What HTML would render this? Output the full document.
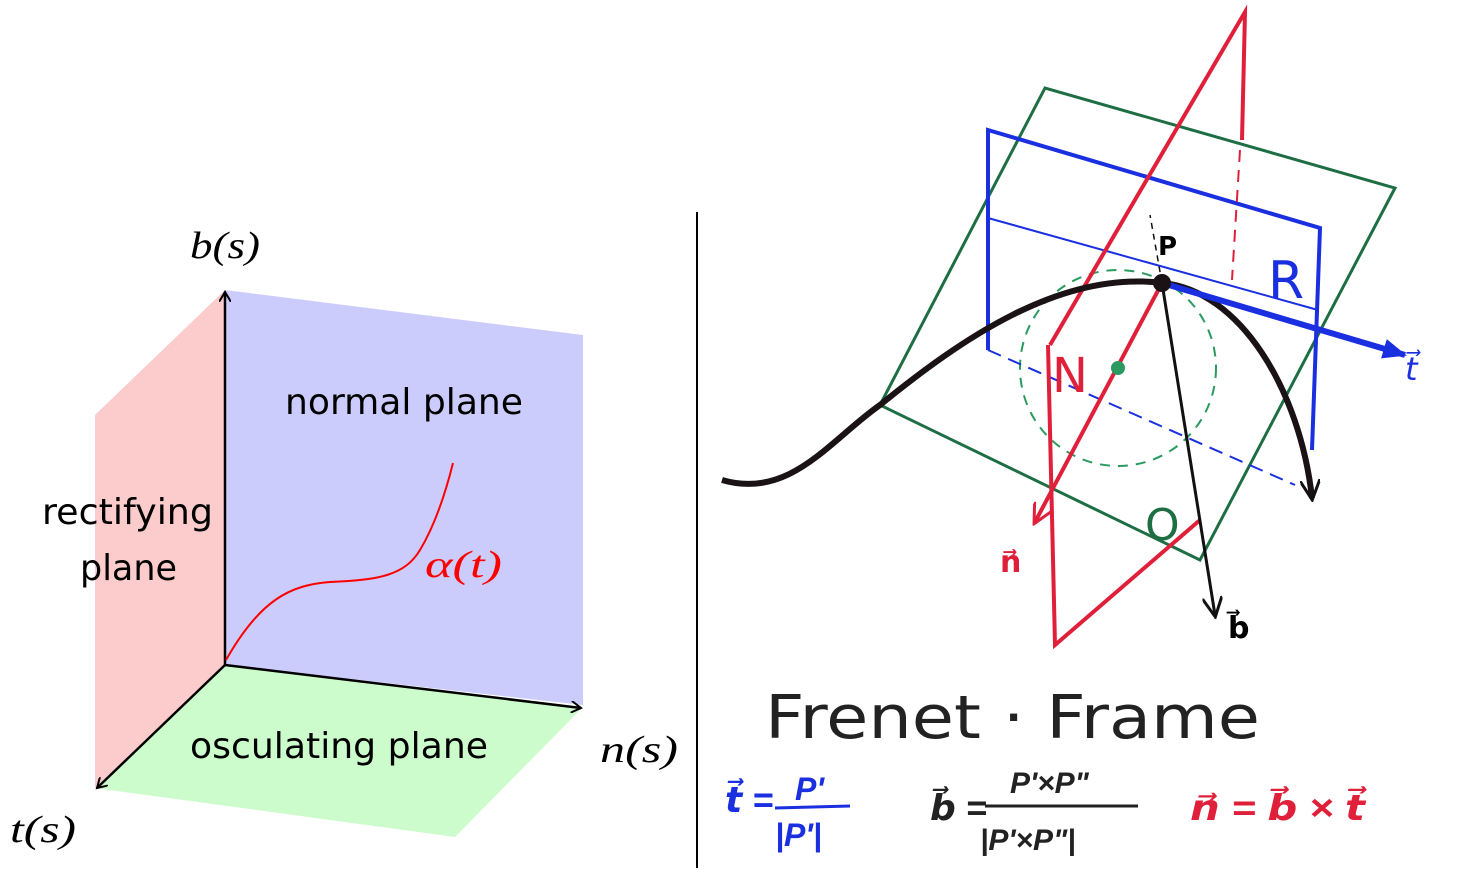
<!DOCTYPE html>
<html><head><meta charset="utf-8"><style>
html,body{margin:0;padding:0;background:#fff;width:1466px;height:889px;overflow:hidden}
svg{display:block}
.sans{font-family:"DejaVu Sans","Liberation Sans",sans-serif}
.serif{font-family:"Liberation Serif",serif;font-style:italic}
</style></head><body>
<svg width="1466" height="889" viewBox="0 0 1466 889">
<defs>
<marker id="ah" markerWidth="12" markerHeight="12" refX="10" refY="6" orient="auto" markerUnits="userSpaceOnUse"><path d="M0,0 L10,6 L0,12" fill="none" stroke="#000" stroke-width="2"/></marker>
<marker id="ahb" markerWidth="26" markerHeight="20" refX="22" refY="10" orient="auto" markerUnits="userSpaceOnUse"><path d="M0,0 L24,10 L0,20 Z" fill="#1a2fe0"/></marker>
<marker id="ahk" markerWidth="22" markerHeight="20" refX="18" refY="10" orient="auto" markerUnits="userSpaceOnUse"><path d="M0,0 L20,10 L0,20" fill="none" stroke="#111" stroke-width="3"/></marker>
<marker id="ahr" markerWidth="22" markerHeight="20" refX="18" refY="10" orient="auto" markerUnits="userSpaceOnUse"><path d="M0,0 L20,10 L0,20" fill="none" stroke="#e0203a" stroke-width="3"/></marker>
</defs>
<g>
<polygon points="95,415 225,290 225,665 95,788" fill="#fccbcb"/>
<polygon points="225,290 583,335 583,705 225,665" fill="#ccccfc"/>
<polygon points="225,665 583,707 455,837 95,788" fill="#ccfccc"/>
<line x1="225" y1="665" x2="225" y2="292" stroke="#000" stroke-width="2.5" marker-end="url(#ah)"/>
<line x1="225" y1="665" x2="581" y2="708" stroke="#000" stroke-width="2.5" marker-end="url(#ah)"/>
<line x1="225" y1="665" x2="97" y2="788" stroke="#000" stroke-width="2.5" marker-end="url(#ah)"/>
<path d="M226,660 C260,600 290,585 330,582 C380,580 405,575 420,550 C435,525 445,495 453,463" fill="none" stroke="#f00" stroke-width="2"/>
<text class="serif" x="190" y="258" font-size="38" textLength="70" lengthAdjust="spacingAndGlyphs">b(s)</text>
<text class="serif" x="600" y="762" font-size="38" textLength="78" lengthAdjust="spacingAndGlyphs">n(s)</text>
<text class="serif" x="10" y="842" font-size="38" textLength="66" lengthAdjust="spacingAndGlyphs">t(s)</text>
<text class="serif" x="425" y="577" font-size="38" fill="#f00" textLength="77" lengthAdjust="spacingAndGlyphs">α(t)</text>
<text class="sans" x="285" y="414" font-size="36" textLength="238" lengthAdjust="spacingAndGlyphs">normal plane</text>
<text class="sans" x="42" y="524" font-size="36" textLength="171" lengthAdjust="spacingAndGlyphs">rectifying</text>
<text class="sans" x="80" y="580" font-size="36" textLength="97" lengthAdjust="spacingAndGlyphs">plane</text>
<text class="sans" x="190" y="758" font-size="36" textLength="298" lengthAdjust="spacingAndGlyphs">osculating plane</text>
</g>
<line x1="697" y1="212" x2="697" y2="868" stroke="#000" stroke-width="2"/>
<g fill="none">
<polygon points="880,405 1045,88 1395,188 1200,560" stroke="#1e6e44" stroke-width="3"/>
<circle cx="1118" cy="368" r="98" stroke="#2a9a60" stroke-width="2" stroke-dasharray="10,8"/>
<path d="M988,350 L988,130 L1320,228 L1312,450" stroke="#1a2fe0" stroke-width="4"/>
<path d="M988,218 L1318,310" stroke="#1a2fe0" stroke-width="2"/>
<path d="M988,350 L1295,485" stroke="#1a2fe0" stroke-width="2" stroke-dasharray="14,8"/>
<path d="M1050,345 L1245,12 L1242,140 M1048,345 L1055,645 L1200,520" stroke="#e0203a" stroke-width="4"/>
<path d="M1240,150 L1232,280" stroke="#e0203a" stroke-width="2" stroke-dasharray="12,8"/>
<path d="M1162,283 L1150,215" stroke="#111" stroke-width="1.5" stroke-dasharray="6,5"/>
<path d="M722,480 C790,500 830,440 880,405 C960,340 1060,270 1162,283 C1240,290 1300,390 1312,498" stroke="#1a1214" stroke-width="6" marker-end="url(#ahk)"/>
<line x1="1162" y1="283" x2="1405" y2="355" stroke="#1a2fe0" stroke-width="6" marker-end="url(#ahb)"/>
<line x1="1162" y1="283" x2="1215" y2="615" stroke="#111" stroke-width="3" marker-end="url(#ahk)"/>
<line x1="1162" y1="283" x2="1035" y2="522" stroke="#e0203a" stroke-width="4" marker-end="url(#ahr)"/>
<circle cx="1162" cy="283" r="9" fill="#1a1214"/>
<circle cx="1118" cy="368" r="7" fill="#2a9a60"/>
</g>
<text class="sans" x="1158" y="255" font-size="26" font-weight="bold">P</text>
<text class="sans" x="1268" y="298" font-size="52" fill="#1a2fe0">R</text>
<text class="sans" x="1052" y="392" font-size="48" fill="#e0203a">N</text>
<text class="sans" x="1145" y="540" font-size="44" fill="#1e6e44">O</text>
<text class="sans" x="1405" y="380" font-size="32" fill="#1a2fe0" font-style="italic">t⃗</text>
<text class="sans" x="1228" y="638" font-size="30" font-weight="bold">b⃗</text>
<text class="sans" x="1000" y="572" font-size="30" font-weight="bold" fill="#e0203a">n⃗</text>
<text class="sans" x="765" y="738" font-size="60" fill="#222" textLength="495" lengthAdjust="spacingAndGlyphs">Frenet · Frame</text>
<g font-family="Liberation Sans, sans-serif" font-style="italic" font-weight="bold" fill="#1a2fe0">
<text x="725" y="812" font-size="36">t⃗ =</text>
<text x="795" y="800" font-size="32">P'</text>
<line x1="775" y1="808" x2="850" y2="806" stroke="#1a2fe0" stroke-width="3"/>
<text x="775" y="846" font-size="32">|P'|</text>
</g>
<g font-family="Liberation Sans, sans-serif" font-style="italic" font-weight="bold" fill="#222">
<text x="930" y="820" font-size="36">b⃗ =</text>
<text x="1010" y="793" font-size="30">P'×P"</text>
<line x1="985" y1="806" x2="1138" y2="806" stroke="#222" stroke-width="3"/>
<text x="980" y="850" font-size="30">|P'×P"|</text>
</g>
<text font-family="Liberation Sans, sans-serif" x="1190" y="820" font-size="36" font-style="italic" font-weight="bold" fill="#e0203a" textLength="175" lengthAdjust="spacingAndGlyphs">n⃗ = b⃗ × t⃗</text>
</svg>
</body></html>
